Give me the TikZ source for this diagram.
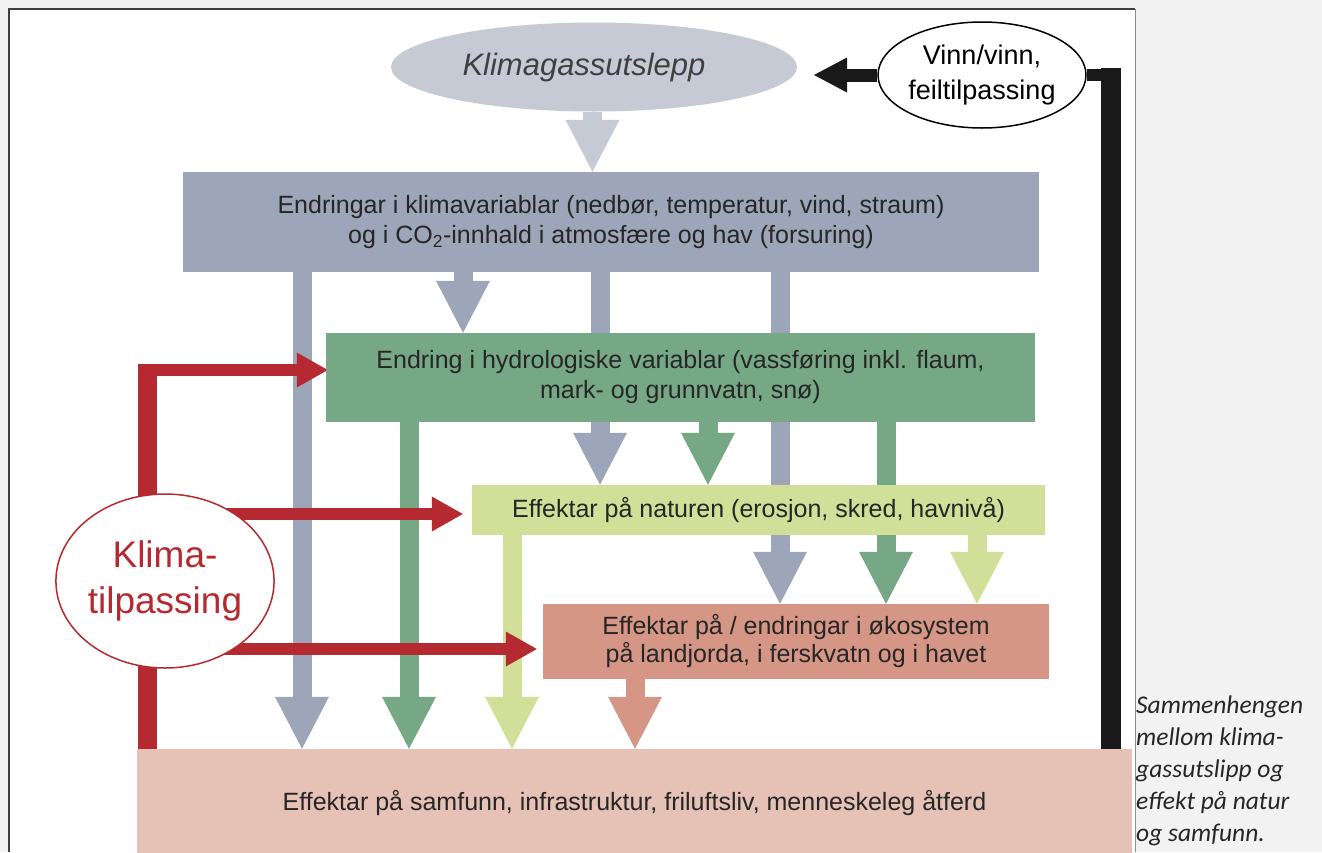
\documentclass[tikz,border=0pt]{standalone}
\usepackage{fontspec}
\setmainfont{Liberation Sans}
\newfontfamily\capfont{Carlito}
\usetikzlibrary{arrows.meta,backgrounds,shapes.geometric}

\definecolor{gasgrey}{HTML}{C5CAD5}
\definecolor{klimagrey}{HTML}{9DA5B8}
\definecolor{hydrogreen}{HTML}{77A886}
\definecolor{naturyellow}{HTML}{D2DF98}
\definecolor{okosalmon}{HTML}{D59686}
\definecolor{samfpink}{HTML}{E6C1B5}
\definecolor{tilpred}{HTML}{B52A30}
\definecolor{pagegrey}{HTML}{F2F2F2}

\tikzset{
  % boxes and bubbles
  % gebruik: \node[box,fill=kleur,minimum width=..,minimum height=..] (naam) at (x,y) {tekst};
  box/.style={rectangle,inner sep=0pt,align=center,text=black!85,
    font=\fontsize{25}{30}\selectfont},
  bubble/.style={ellipse,inner sep=0pt,align=center},
  % thick block arrows (shaft + triangle head)
  blockarrow/.style={draw=#1,line width=19pt,
    -{Triangle[width=54pt,length=52pt,line width=0pt]}},
  redarrow/.style={draw=tilpred,line width=12pt,
    -{Triangle[width=35pt,length=31pt,line width=0pt]}},
  redline/.style={draw=tilpred,line width=19pt},
  fatline/.style={draw=black!90,line width=#1},
}

\begin{document}
\begin{tikzpicture}[x=1pt,y=-1pt]
  \useasboundingbox (0,0) rectangle (1322,852);
  \node[bubble,fill=gasgrey,minimum width=406pt,minimum height=89pt,text=black!75,
    font=\fontsize{31}{36}\selectfont\itshape] (gas) at (594,67) {Klimagassutslepp\hspace*{20pt}};
  \node[bubble,draw=black,line width=1.5pt,fill=white,minimum width=206pt,minimum height=106pt,
    font=\fontsize{27}{35}\selectfont] (vinn) at (982,75) {Vinn/vinn,\\feiltilpassing};
  \node[box,fill=klimagrey,minimum width=856pt,minimum height=100pt] (klima) at (611,222)
    {Endringar i klimavariablar (nedbør, temperatur, vind, straum)\\og i CO\textsubscript{2}-innhald i atmosfære og hav (forsuring)};
  \node[box,fill=hydrogreen,minimum width=709pt,minimum height=89pt] (hydro) at (680.5,377.5)
    {Endring i hydrologiske variablar (vassføring inkl. flaum,\\mark- og grunnvatn, snø)};
  \node[box,fill=naturyellow,minimum width=573pt,minimum height=50pt] (natur) at (758.5,510)
    {Effektar på naturen (erosjon, skred, havnivå)};
  \node[box,fill=okosalmon,minimum width=506pt,minimum height=75pt,
    font=\fontsize{25}{28}\selectfont] (oko) at (796,641.5)
    {Effektar på / endringar i økosystem\\på landjorda, i ferskvatn og i havet};
  \node[box,fill=samfpink,minimum width=995pt,minimum height=108pt] (samf) at (634.5,803)
    {Effektar på samfunn, infrastruktur, friluftsliv, menneskeleg åtferd};
  \node[bubble,draw=tilpred,line width=1.5pt,fill=white,minimum width=216pt,minimum height=174pt,
    text=tilpred,font=\fontsize{37}{46}\selectfont] (tilp) at (165,581) {Klima-\\tilpassing};
  \node[anchor=north west,inner sep=0pt,align=left,text=black!85,
    font=\capfont\itshape\fontsize{25.5}{32}\selectfont] (caption) at (1136,696)
    {Sammenhengen\\mellom klima-\\gassutslipp og\\effekt på natur\\og samfunn.};

  \begin{scope}[on background layer]
    \fill[pagegrey] (0,0) rectangle (1322,852);
    \fill[white] (8,8) rectangle (1135,852);
    \draw[black!75,line width=2.5pt] (9,852) -- (9,9) -- (1135,9);
    \draw[black!45,line width=1pt] (1135,9) -- (1135,852);
    % block arrows between the boxes
    \coordinate (gx) at (592.5,0);
    \draw[blockarrow=gasgrey] (gas.south -| gx) -- (klima.north -| gx);
    \foreach \x/\from/\to/\col in {302/klima/samf/klimagrey, 463/klima/hydro/klimagrey,
        600/klima/natur/klimagrey, 780/klima/oko/klimagrey, 409/hydro/samf/hydrogreen,
        708/hydro/natur/hydrogreen, 886/hydro/oko/hydrogreen, 512/natur/samf/naturyellow,
        977/natur/oko/naturyellow, 635/oko/samf/okosalmon} {
      \coordinate (ax) at (\x,0);
      \draw[blockarrow=\col] (\from.south -| ax) -- (\to.north -| ax);
    }
    % klimatilpassing
    \coordinate (rx) at (147,0);
    \coordinate (ry1) at (0,370);
    \coordinate (ry2) at (0,514);
    \coordinate (ry3) at (0,649);
    \draw[redline] (tilp.center -| rx) -- ([yshift=6pt]ry1 -| rx);
    \draw[redline] (tilp.center -| rx) -- (samf.north -| rx);
    \draw[redarrow] ([xshift=-9.5pt]ry1 -| rx) -- ([xshift=2pt]hydro.west |- ry1);
    \draw[redarrow] (tilp.center |- ry2) -- ([xshift=-9pt]natur.west |- ry2);
    \draw[redarrow] (tilp.center |- ry3) -- ([xshift=-6pt]oko.west |- ry3);
  \end{scope}

  % tilbakekopling
  \coordinate (bx) at (1111,0);
  \coordinate (tip) at (814,0);
  \draw[fatline=20pt] (samf.north -| bx) -- ([yshift=7pt]vinn.east -| bx);
  \draw[fatline=12pt] ([xshift=10pt]vinn.east -| bx) -- (vinn.east);
  \draw[fatline=13pt,-{Triangle[width=35pt,length=33pt,line width=0pt]}] (vinn.west) -- (tip |- vinn.west);
\end{tikzpicture}
\end{document}
